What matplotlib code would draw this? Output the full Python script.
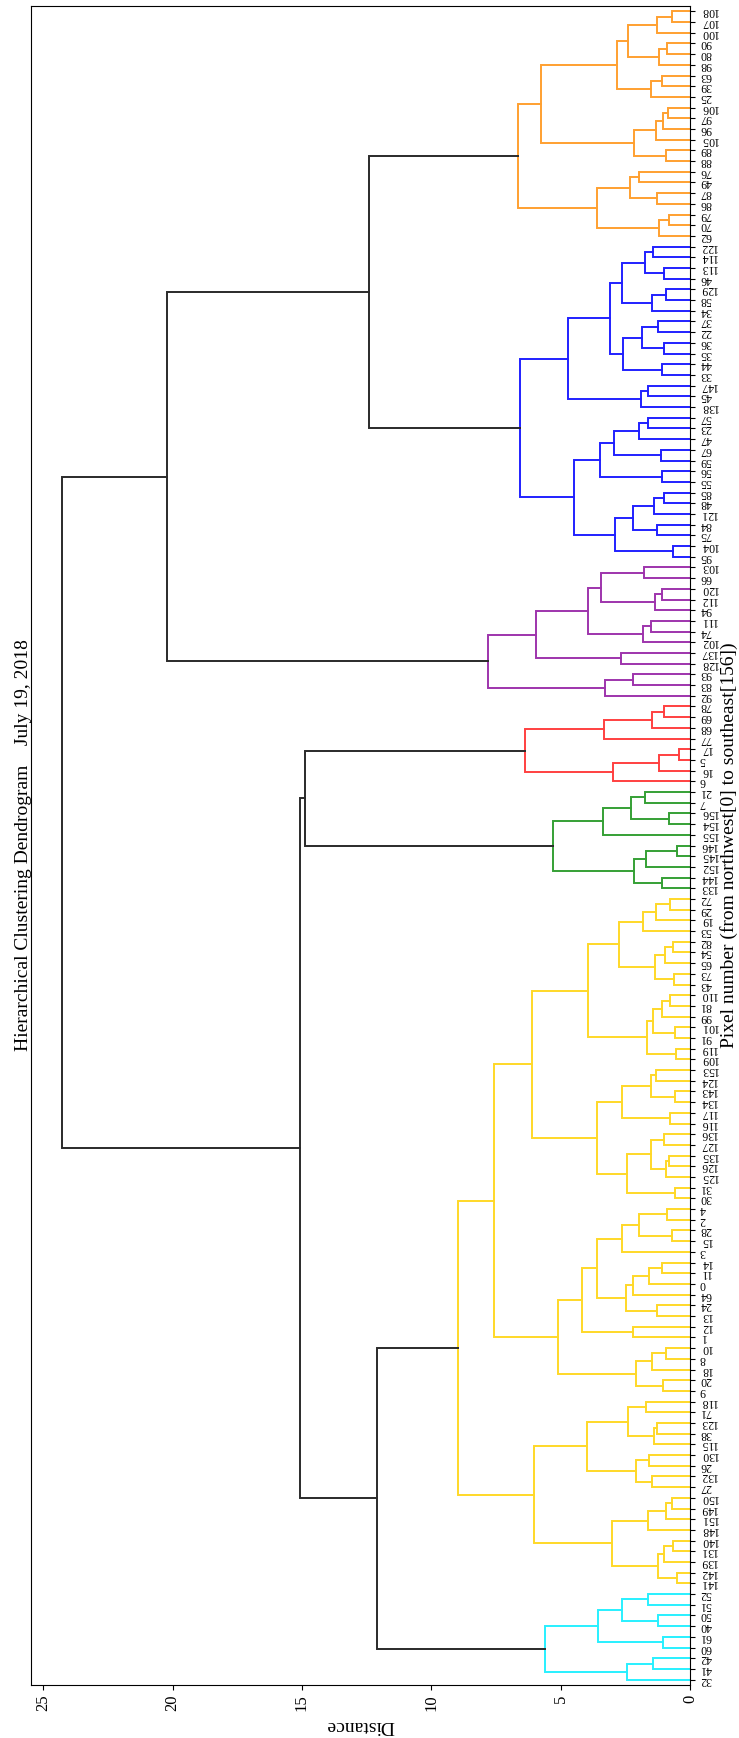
import matplotlib
matplotlib.use('Agg')
import matplotlib.pyplot as plt

plt.rcParams['font.family'] = ['Liberation Serif', 'DejaVu Serif']

# merge trees per cluster: (upper child, lower child, distance), leaves = pixel numbers
o_a = (((108, 107, 0.71), 100, 1.29), ((90, 80, 0.90), 98, 1.20), 2.41)
o_b = ((63, 39, 1.09), 25, 1.51)
o_c = ((((106, 97, 0.84), 96, 1.03), 105, 1.33), (89, 88, 0.94), 2.15)
o_d = (((76, 49, 1.99), (87, 86, 1.29), 2.32), ((79, 70, 0.80), 62, 1.20), 3.58)
orange = (((o_a, o_b, 2.83), o_c, 5.77), o_d, 6.63)

b_a = (((122, 114, 1.44), (113, 46, 1.00), 1.74), ((129, 58, 0.93), 34, 1.48), 2.64)
b_b = (((37, 22, 1.25), (36, 35, 1.00), 1.84), (44, 33, 1.07), 2.59)
b_c = ((147, 45, 1.61), 138, 1.89)
b_d = ((((57, 23, 1.63), 47, 1.97), (67, 59, 1.12), 2.92), (56, 55, 1.09), 3.47)
b_e = ((((85, 48, 0.99), 121, 1.39), (84, 75, 1.29), 2.19), (104, 95, 0.67), 2.90)
blue = (((b_a, b_b, 3.11), b_c, 4.72), (b_d, b_e, 4.50), 6.56)

p_a = ((103, 66, 1.76), ((120, 112, 1.09), 94, 1.35), 3.44)
p_b = ((111, 74, 1.51), 102, 1.83)
purple = (((p_a, p_b, 3.95), (137, 128, 2.68), 5.95), ((93, 83, 2.19), 92, 3.28), 7.82)

red = ((((78, 69, 1.00), 68, 1.48), 77, 3.31),
       (((17, 5, 0.42), 16, 1.20), 6, 2.96), 6.37)

green = ((((21, 7, 1.74), (156, 154, 0.80), 2.29), 155, 3.37),
         (((146, 145, 0.51), 152, 1.70), (144, 133, 1.09), 2.16), 5.28)

y_a = (((72, 29, 0.77), 19, 1.31), 53, 1.83)
y_b = (((82, 54, 0.64), 65, 0.97), (73, 43, 0.60), 1.35)
y_c = ((((110, 81, 0.77), 99, 1.09), (101, 91, 0.58), 1.44), (119, 109, 0.54), 1.67)
y_d = (((153, 124, 1.31), (143, 134, 0.58), 1.51), (117, 116, 0.77), 2.64)
y_e = (((136, 127, 0.99), ((135, 126, 0.80), 125, 0.93), 1.52), (31, 30, 0.58), 2.45)
y_f = ((((4, 2, 0.90), (28, 15, 0.71), 1.96), 3, 2.64),
       ((((14, 11, 1.09), 0, 1.57), 64, 2.19), (24, 13, 1.29), 2.48), 3.58)
y_g = (((10, 8, 0.93), 18, 1.45), (20, 9, 1.03), 2.10)
y_h = (((118, 71, 1.70), ((123, 38, 1.26), 115, 1.39), 2.38),
       ((130, 26, 1.57), (132, 27, 1.45), 2.10), 3.99)
y_i = ((((150, 149, 0.71), 151, 0.94), 148, 1.63),
       (((140, 131, 0.64), 139, 1.00), (142, 141, 0.51), 1.22), 3.02)
yellow = (((((y_a, y_b, 2.73), y_c, 3.96), (y_d, y_e, 3.60), 6.09),
           ((y_f, (12, 1, 2.21), 4.18), y_g, 5.11), 7.59),
          (y_h, y_i, 6.02), 8.98)

c_a = (((52, 51, 1.63), (50, 40, 1.25), 2.64), (61, 60, 1.06), 3.54)
cyan = (c_a, ((42, 41, 1.44), 32, 2.45), 5.60)

clusters = {
    'orange': (orange, '#ffa030'),
    'blue': (blue, '#2020ff'),
    'purple': (purple, '#9e34ac'),
    'red': (red, '#ff4040'),
    'green': (green, '#35a035'),
    'yellow': (yellow, '#ffd828'),
    'cyan': (cyan, '#28f0ff'),
}

# links above the colour threshold
top = ((('orange', 'blue', 12.39), 'purple', 20.23),
       (('red', 'green', 14.89), ('yellow', 'cyan', 12.10), 15.06),
       24.26)

n_leaves = 157

fig = plt.figure(figsize=(7.39, 17.38), dpi=100)
ax = fig.add_axes([31 / 739, 1 - 1685 / 1738, 659 / 739, 1679 / 1738])

leaf_pos = []
leaf_lab = []


def draw(node, color):
    if isinstance(node, str):
        tree, c = clusters[node]
        return draw(tree, c)
    if isinstance(node, int):
        y = 10 * n_leaves - 5 - 10 * len(leaf_lab)
        leaf_pos.append(y)
        leaf_lab.append(str(node))
        return y, 0.0
    a, b, h = node
    ya, ha = draw(a, color)
    yb, hb = draw(b, color)
    ax.plot([ha, h, h, hb], [ya, ya, yb, yb], color=color, lw=1.4,
            solid_joinstyle='miter')
    return (ya + yb) / 2, h


draw(top, '#2a2a2a')

ax.set_ylim(0, 10 * n_leaves)
ax.set_xlim(1.05 * top[2], 0)

ax.yaxis.tick_right()
ax.set_yticks(leaf_pos)
ax.set_yticklabels(leaf_lab, rotation=180, fontsize=8.5, va='center')
ax.yaxis.set_label_position('right')
ax.set_ylabel('Pixel number (from northwest[0] to southeast[156])',
              fontsize=14, rotation=90, labelpad=2)

ax.set_xticks([0, 5, 10, 15, 20, 25])
ax.set_xticklabels(['0', '5', '10', '15', '20', '25'], rotation=90, fontsize=12)
ax.set_xlabel('Distance', fontsize=14, rotation=180)

fig.text(24 / 739, 1 - 845 / 1738, 'Hierarchical Clustering Dendrogram    July 19, 2018',
         rotation=90, fontsize=14, ha='center', va='center')

fig.savefig('out.png', dpi=100)
